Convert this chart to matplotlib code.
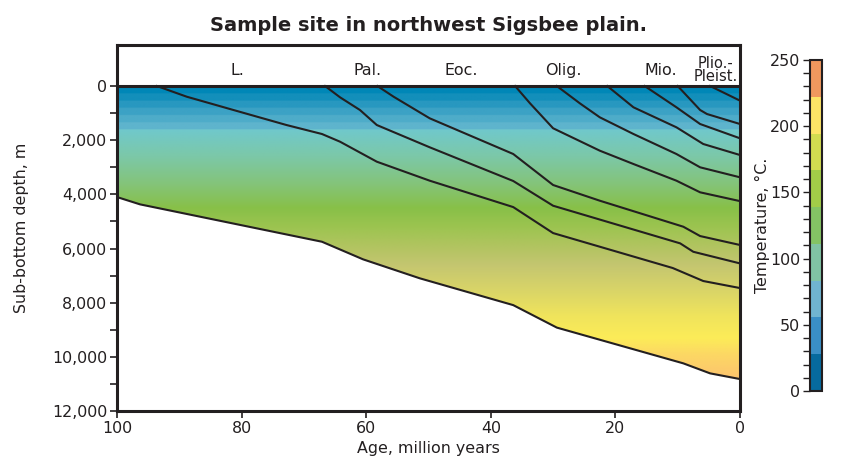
import numpy as np
import matplotlib
matplotlib.use('Agg')
import matplotlib.pyplot as plt
from matplotlib import font_manager
from matplotlib.colors import ListedColormap, BoundaryNorm, to_rgb
from matplotlib.patches import Polygon
from matplotlib.ticker import FuncFormatter, FixedLocator, MultipleLocator
from matplotlib.cm import ScalarMappable

# prefer a narrow face when one is installed
names = {f.name for f in font_manager.fontManager.ttflist}
narrow = [n for n in ['Liberation Sans Narrow', 'DejaVu Sans Condensed'] if n in names]
plt.rcParams['font.family'] = narrow + ['DejaVu Sans']
scale = 1.0 if narrow else 0.88
ink = '#231f20'

# base of the sediment column (age in Ma, sub-bottom depth in m)
base_age = [100, 96.3, 67.1, 60.5, 51.4, 36.4, 29.4, 9.1, 4.8, 0]
base_depth = [4100, 4370, 5750, 6400, 7100, 8090, 8920, 10240, 10610, 10820]

# burial curves of the dated horizons
age_a = [93.6, 88.8, 81.3, 72.8, 67.1, 64.2, 58.3, 49.8, 36.4, 30.0, 10.8, 5.9, 0]
depth_a = [0, 395, 886, 1440, 1772, 2056, 2794, 3496, 4470, 5430, 6720, 7200, 7460]
age_b = [66.6, 64.2, 61.0, 58.3, 49.8, 36.4, 30.0, 9.6, 7.5, 0]
depth_b = [0, 417, 886, 1440, 2263, 3507, 4420, 5810, 6120, 6550]
age_c = [58.2, 55.6, 49.8, 36.4, 30.0, 22.5, 9.1, 6.4, 0]
depth_c = [0, 395, 1193, 2510, 3655, 4235, 5195, 5540, 5870]
age_d = [36.1, 33.7, 30.0, 22.5, 17.1, 10.2, 6.4, 0]
depth_d = [0, 640, 1560, 2388, 2880, 3496, 3925, 4250]
age_e = [29.4, 25.7, 22.5, 17.1, 10.2, 6.4, 0]
depth_e = [0, 640, 1156, 1772, 2511, 3002, 3371]
age_f = [21.3, 17.1, 10.2, 5.9, 0]
depth_f = [0, 786, 1525, 2141, 2548]
age_g = [15.3, 10.2, 6.4, 0]
depth_g = [0, 786, 1403, 1931]
age_h = [10.0, 6.4, 5.3, 0]
depth_h = [0, 886, 1034, 1403]
age_i = [4.8, 0]
depth_i = [0, 540]

# epoch names along the top
epochs = ['L.', 'Pal.', 'Eoc.', 'Olig.', 'Mio.', 'Plio.-\nPleist.']
epoch_age = [80.6, 59.8, 44.8, 28.4, 12.7, 3.9]

# temperature scale
temp_bounds = np.linspace(0, 250, 10)
temp_colors = ['#066a9e', '#3a8fc6', '#70b4d0', '#80c4a4', '#84c464',
               '#a2cc48', '#d2dc50', '#fde466', '#f0985e']

# shading with depth: banded blues near the top, smooth below
band_colors = ['#0087b7', '#138fbb', '#2898c0', '#3ca2c5', '#4eacc9', '#5eb4cd']
grad_depth = [1600, 2600, 3600, 4500, 5200, 6000, 6600, 7500, 8500, 9300, 9900, 11000]
grad_colors = ['#70c8cc', '#7cc8a8', '#84c47a', '#88c048', '#9cc450', '#b4c462',
               '#c4c670', '#d8d468', '#f0e45c', '#fcec58', '#fcd864', '#fcbf70']

fig = plt.figure(figsize=(8.66, 4.65), dpi=100)
ax = fig.add_axes([0.1351, 0.1161, 0.7194, 0.7871])

zz = np.linspace(0, 11000, 1101)
rgb = np.array([to_rgb(c) for c in grad_colors])
img = np.zeros((len(zz), 2, 3))
for k in range(3):
    img[:, :, k] = np.interp(zz, grad_depth, rgb[:, k])[:, None]
band_rgb = np.array([to_rgb(c) for c in band_colors])
idx = (zz / (1600 / len(band_colors))).astype(int)
top = zz < 1600
img[top] = band_rgb[idx[top]][:, None, :]
im = ax.imshow(img, extent=[100, 0, 11000, 0], aspect='auto', interpolation='bilinear', zorder=1)
verts = [(100, 0), (0, 0)] + list(zip(base_age[::-1], base_depth[::-1]))
clip = Polygon(verts, closed=True, transform=ax.transData)
im.set_clip_path(clip)

for a, d in [(age_a, depth_a), (age_b, depth_b), (age_c, depth_c), (age_d, depth_d),
             (age_e, depth_e), (age_f, depth_f), (age_g, depth_g), (age_h, depth_h),
             (age_i, depth_i)]:
    ax.plot(a, d, color=ink, lw=1.5, zorder=3)
ax.plot(base_age, base_depth, color=ink, lw=1.5, zorder=3)
ax.axhline(0, color=ink, lw=2.2, zorder=4)

fs = 13 * scale
for name, a in zip(epochs, epoch_age):
    ax.text(a, -590, name, ha='center', va='center', color=ink, linespacing=0.85,
            fontsize=fs if '\n' not in name else fs * 0.92)

ax.set_xlim(100, 0)
ax.set_ylim(12000, -1514)
ax.xaxis.set_major_locator(FixedLocator([100, 80, 60, 40, 20, 0]))
ax.yaxis.set_major_locator(FixedLocator(np.arange(0, 12001, 2000)))
ax.yaxis.set_minor_locator(FixedLocator(np.arange(1000, 12000, 2000)))
ax.yaxis.set_major_formatter(FuncFormatter(lambda v, p: f'{int(v):,}'))
ax.tick_params(which='both', direction='out', color=ink, labelcolor=ink, width=1.2,
               labelsize=fs, length=5, pad=2)
for s in ax.spines.values():
    s.set_linewidth(2.2)
    s.set_color(ink)

ax.set_xlabel('Age, million years', fontsize=fs, color=ink, labelpad=4)
ax.set_ylabel('Sub-bottom depth, m', fontsize=fs, color=ink)
ax.yaxis.set_label_coords(-0.142, 0.5)
ax.set_title('Sample site in northwest Sigsbee plain.', fontsize=16 * scale,
             fontweight='bold', color=ink, pad=10)

cax = fig.add_axes([0.9353, 0.159, 0.0139, 0.712])
sm = ScalarMappable(norm=BoundaryNorm(temp_bounds, len(temp_colors)),
                    cmap=ListedColormap(temp_colors))
cb = fig.colorbar(sm, cax=cax, ticks=[0, 50, 100, 150, 200, 250])
cb.outline.set_linewidth(1.5)
cb.outline.set_edgecolor(ink)
cax.yaxis.set_ticks_position('left')
cax.yaxis.set_label_position('left')
cax.yaxis.set_minor_locator(MultipleLocator(10))
cax.tick_params(which='both', direction='out', length=5, width=1.0, color=ink,
                labelcolor=ink, labelsize=fs, pad=2)
cb.set_label('Temperature, °C.', fontsize=fs, color=ink)
cax.yaxis.set_label_coords(-3.35, 0.5)

fig.savefig('out.png', dpi=100)
